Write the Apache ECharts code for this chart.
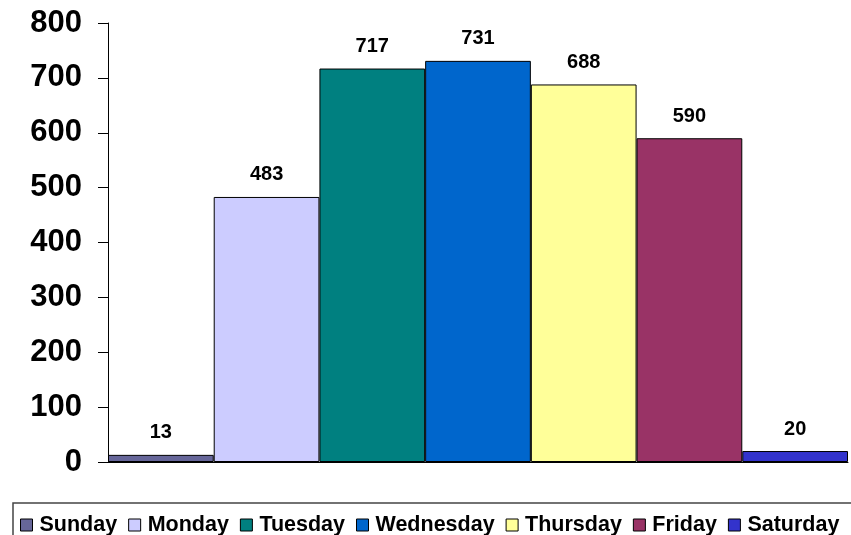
<!DOCTYPE html>
<html>
<head>
<meta charset="utf-8">
<script src="https://cdn.jsdelivr.net/npm/echarts@6/dist/echarts.min.js"></script>
<style>
  html, body { margin: 0; padding: 0; background: #fff; }
  #chart { width: 851px; height: 535px; }
</style>
</head>
<body>
<div id="chart"></div>
<script>
// days of week and counts
const days = ["Sunday", "Monday", "Tuesday", "Wednesday", "Thursday", "Friday", "Saturday"];
const counts = [13, 483, 717, 731, 688, 590, 20];
const dayColors = ["#666699", "#CCCCFF", "#008080", "#0066CC", "#FFFF99", "#993366", "#3333CC"];
const yTicks = [0, 100, 200, 300, 400, 500, 600, 700, 800];

const font = "'Liberation Sans', Arial, sans-serif";

let chart = echarts.init(document.getElementById("chart"));

let series = days.map((d, i) => ({
  name: d,
  type: "bar",
  data: [counts[i]],
  barGap: "0%",
  barCategoryGap: "0%",
  itemStyle: { color: dayColors[i], borderColor: "#000", borderWidth: 1 },
  label: {
    show: true,
    position: "top",
    distance: 12,
    color: "#000",
    fontFamily: font,
    fontWeight: "bold",
    fontSize: 20,
  },
}));

chart.setOption({
  animation: false,
  grid: { left: 108, right: 3, top: 23, bottom: 73 },
  xAxis: {
    type: "category",
    data: [""],
    axisLine: { show: true, lineStyle: { color: "#000" } },
    axisTick: { show: false },
    axisLabel: { show: false },
  },
  yAxis: {
    type: "value",
    min: yTicks[0],
    max: yTicks[yTicks.length - 1],
    interval: 100,
    axisLine: { show: true, lineStyle: { color: "#000" } },
    axisTick: { show: true, length: 10, lineStyle: { color: "#000" } },
    splitLine: { show: false },
    axisLabel: {
      color: "#000",
      fontFamily: font,
      fontWeight: "bold",
      fontSize: 31,
      margin: 26,
    },
  },
  legend: {
    data: days,
    left: 15,
    top: 509,
    itemWidth: 12,
    itemHeight: 12,
    itemGap: 11,
    icon: "rect",
    itemStyle: { borderColor: "#000", borderWidth: 1 },
    textStyle: {
      color: "#000",
      fontFamily: font,
      fontWeight: "bold",
      fontSize: 21.5,
      padding: [0, 0, 0, 2],
    },
  },
  graphic: [
    {
      type: "rect",
      shape: { x: 13, y: 503, width: 850, height: 60 },
      style: { fill: "none", stroke: "#444", lineWidth: 1.5 },
    },
  ],
  series: series,
});
</script>
</body>
</html>
